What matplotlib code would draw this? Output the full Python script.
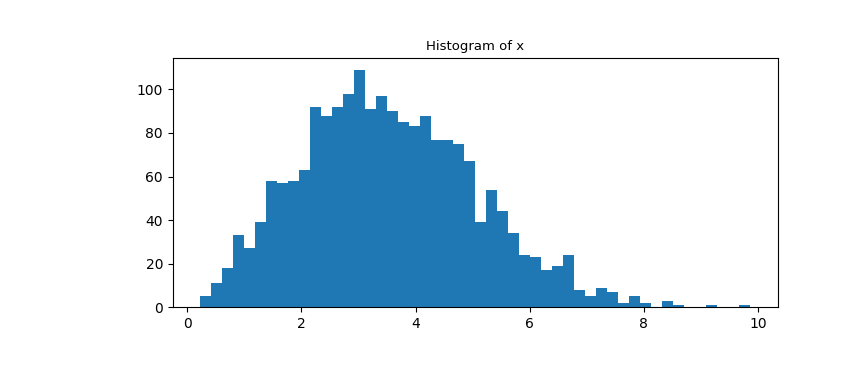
import numpy as np
import matplotlib
matplotlib.use("Agg")
import matplotlib.pyplot as plt

x_min = 0.228
x_max = 9.86
n_bins = 50
counts = [5, 11, 18, 33, 27, 39, 58, 57, 58, 63,
          92, 88, 92, 98, 109, 91, 97, 90, 85, 83,
          88, 77, 77, 75, 67, 39, 54, 44, 34, 24,
          23, 17, 19, 24, 8, 5, 9, 7, 2, 5,
          2, 0, 3, 1, 0, 0, 1, 0, 0, 1]

edges = np.linspace(x_min, x_max, n_bins + 1)
centers = (edges[:-1] + edges[1:]) / 2

fig = plt.figure(figsize=(8.64, 3.84), dpi=100)
ax = fig.add_axes([0.2, 0.2, 0.7, 0.649])
ax.hist(centers, bins=edges, weights=counts, color="#1f77b4")
ax.set_title("Histogram of x", fontsize=9.5)
fig.savefig("out.png", dpi=100)
